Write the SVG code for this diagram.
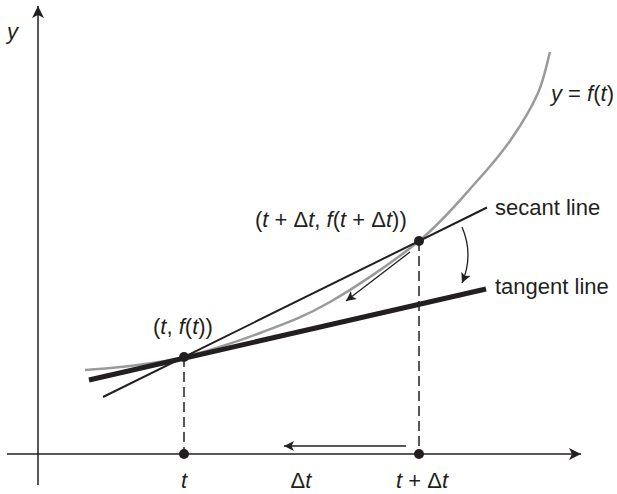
<svg xmlns="http://www.w3.org/2000/svg" width="617" height="494" viewBox="0 0 617 494">
<style>
.ax{stroke:#231f20;stroke-width:1.5;fill:none}
.dash{stroke:#231f20;stroke-width:1.5;stroke-dasharray:10 5;fill:none}
.thin{stroke:#231f20;stroke-width:1.3;fill:none}
.lbl{font-family:"Liberation Sans",Arial,sans-serif;font-size:22px;fill:#231f20}
.it{font-style:italic}
.dot{fill:#231f20}
</style>
<defs>
<marker id="axh" markerWidth="14" markerHeight="12" refX="12" refY="6" orient="auto" markerUnits="userSpaceOnUse">
<path d="M0,0 L12,6 L0,12 L3,6 Z" fill="#231f20"/>
</marker>
<marker id="sh" markerWidth="12" markerHeight="10" refX="10" refY="5" orient="auto" markerUnits="userSpaceOnUse">
<path d="M0,0 L10,5 L0,10 L2.5,5 Z" fill="#231f20"/>
</marker>
</defs>
<g id="axes">
<line class="ax" x1="38" y1="485" x2="38" y2="6" marker-end="url(#axh)"/>
<line class="ax" x1="7" y1="454" x2="581" y2="454" marker-end="url(#axh)"/>
</g>
<g id="curve">
<path d="M85,370 C92.5,369.3 113.5,368.2 130,366 C146.5,363.8 162.3,362.5 184,357 C205.7,351.5 235.7,342.2 260,333 C284.3,323.8 303.5,317.3 330,302 C356.5,286.7 394.3,261.3 419,241 C443.7,220.7 462.5,197.2 478,180 C493.5,162.8 502,152.5 512,138 C522,123.5 531.7,107.3 538,93 C544.3,78.7 548,58.8 550,52" fill="none" stroke="#9a9a9c" stroke-width="2.5"/>
</g>
<g id="connectors">
<line class="dash" x1="184" y1="357" x2="184" y2="454"/>
<line class="dash" x1="419" y1="241" x2="419" y2="454"/>
<line x1="103" y1="397" x2="487" y2="207.5" stroke="#231f20" stroke-width="2"/>
<line x1="89" y1="380" x2="486" y2="289" stroke="#231f20" stroke-width="5"/>
<line class="thin" x1="410" y1="252" x2="346" y2="301" marker-end="url(#sh)"/>
<path class="thin" d="M462,227 Q474,255 462,283" marker-end="url(#sh)"/>
<line class="thin" x1="406" y1="446" x2="284" y2="446" marker-end="url(#sh)"/>
</g>
<g id="points">
<circle class="dot" cx="184" cy="357" r="5"/>
<circle class="dot" cx="419" cy="241" r="5"/>
<circle class="dot" cx="184" cy="454" r="5"/>
<circle class="dot" cx="419" cy="454" r="5"/>
</g>
<g id="labels">
<text class="lbl it" x="7" y="39">y</text>
<text class="lbl" x="551" y="101"><tspan class="it">y</tspan> = <tspan class="it">f</tspan>(<tspan class="it">t</tspan>)</text>
<text class="lbl" x="495" y="215">secant line</text>
<text class="lbl" x="495" y="294">tangent line</text>
<text class="lbl" x="255" y="227">(<tspan class="it">t</tspan> + Δ<tspan class="it">t</tspan>, <tspan class="it">f</tspan>(<tspan class="it">t</tspan> + Δ<tspan class="it">t</tspan>))</text>
<text class="lbl" x="153" y="334">(<tspan class="it">t</tspan>, <tspan class="it">f</tspan>(<tspan class="it">t</tspan>))</text>
<text class="lbl it" x="184" y="488" text-anchor="middle">t</text>
<text class="lbl" x="301" y="488" text-anchor="middle">Δ<tspan class="it">t</tspan></text>
<text class="lbl" x="422" y="488" text-anchor="middle"><tspan class="it">t</tspan> + Δ<tspan class="it">t</tspan></text>
</g>
</svg>
